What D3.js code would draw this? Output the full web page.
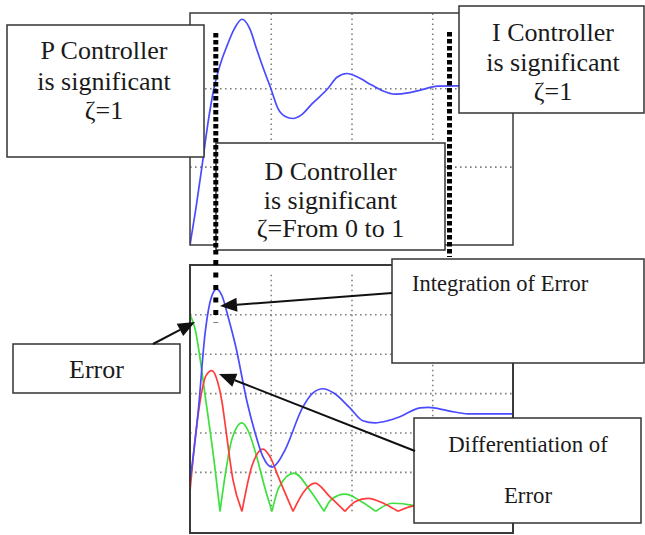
<!DOCTYPE html>
<html><head><meta charset="utf-8">
<script src="https://cdn.jsdelivr.net/npm/d3@7"></script>
<style>
body{margin:0;background:#fff}
svg{display:block;background:#fff}
</style>
</head><body>
<svg id="c" width="645" height="535"></svg>
<script>
// ---------- data ----------
const topTime     = [0,0.075,0.149,0.22,0.297,0.38,0.458,0.55,0.644,0.74,0.83,0.92,1.0,1.09,1.18,1.276,1.38,1.51,1.71,1.82,1.944,2.08,2.25,2.38,2.54,2.70,2.83,3.07,3.32,3.6,4.0];
const topResponse = [0,0.24,0.503,0.77,1.0,1.16,1.27,1.38,1.44,1.38,1.242,1.11,1.0,0.87,0.82,0.807,0.83,0.90,1.0,1.07,1.094,1.07,1.02,0.985,0.962,0.97,0.985,1.013,1.015,1.005,1.0];

const integTime   = [0,0.1,0.186,0.26,0.33,0.40,0.47,0.57,0.706,0.805,0.9,1.015,1.09,1.176,1.40,1.52,1.647,1.78,1.98,2.14,2.29,2.45,2.6,2.85,2.95,3.2,3.44,4.0];
const integValues = [0.15,0.50,0.90,1.08,1.128,1.09,0.99,0.83,0.556,0.40,0.28,0.224,0.25,0.311,0.531,0.60,0.622,0.60,0.525,0.46,0.449,0.46,0.48,0.525,0.527,0.51,0.495,0.495];

const errorTime   = [0,0.06,0.198,0.30,0.372,0.45,0.516,0.644,0.73,0.826,0.92,1.015,1.10,1.288,1.48,1.66,1.75,1.92,2.12,2.30,2.51,2.76,2.95,3.16,3.57,3.78,4.0];
const errorValues = [1.0,0.93,0.556,0.25,0,0.22,0.362,0.449,0.40,0.277,0.13,0,0.12,0.194,0.11,0,0.06,0.087,0.05,0,0.041,0.03,0,0.02,0,0.01,0.004];

const diffTime    = [0,0.062,0.124,0.20,0.272,0.34,0.396,0.433,0.533,0.644,0.764,0.904,1.00,1.094,1.276,1.424,1.548,1.734,1.92,2.05,2.204,2.40,2.576,2.82,3.16,3.47,3.78,4.0];
const diffValues  = [0.10,0.362,0.556,0.69,0.714,0.66,0.556,0.449,0.158,0,0.226,0.316,0.27,0.175,0,0.107,0.143,0.073,0,0.05,0.066,0.04,0,0.03,0,0.015,0,0.006];

const xGridTicks      = [1,2,3];
const topGridTicks    = [0.5,1.0];
const bottomGridTicks = [0.2,0.4,0.6,0.8,1.0];

const pBoxText   = ["P Controller","is significant","\u03B6=1"];
const iBoxText   = ["I Controller","is significant","\u03B6=1"];
const dBoxText   = ["D Controller","is significant","\u03B6=From 0 to 1"];
const integLabel = ["Integration of Error"];
const diffLabel  = ["Differentiation of","Error"];
const errorLabel = ["Error"];

// ---------- drawing ----------
const FONT = "'Liberation Serif', Tinos, 'Times New Roman', 'DejaVu Serif', serif";
const svg = d3.select("#c");
const x = d3.scaleLinear([0,4],[190,513]);
const yTop = d3.scaleLinear([0,1.48],[245,13]);
const yBot = d3.scaleLinear([-0.11,1.25],[533,265]);

const defs = svg.append("defs");
defs.append("clipPath").attr("id","clipTop").append("rect")
  .attr("x",190).attr("y",13).attr("width",323).attr("height",232);
defs.append("clipPath").attr("id","clipBot").append("rect")
  .attr("x",190).attr("y",265).attr("width",323).attr("height",268);

function grid(g){
  g.selectAll(".domain").remove();
  g.selectAll("line").attr("stroke","#808080").attr("stroke-width",1.6).attr("stroke-dasharray","1.6,3.4");
  g.selectAll("text").remove();
}

// top plot grid
svg.append("g").attr("transform",`translate(0,${yTop(0)})`)
  .call(d3.axisBottom(x).tickValues(xGridTicks).tickSize(-(yTop(0)-yTop(1.48))).tickFormat(""))
  .call(grid);
svg.append("g").attr("transform",`translate(${x(0)},0)`)
  .call(d3.axisLeft(yTop).tickValues(topGridTicks).tickSize(-(x(4)-x(0))).tickFormat(""))
  .call(grid);

// bottom plot grid
svg.append("g").attr("transform",`translate(0,${yBot(0)})`)
  .call(d3.axisBottom(x).tickValues(xGridTicks).tickSize(-(yBot(0)-yBot(1.2))).tickFormat(""))
  .call(grid);
svg.append("g").attr("transform",`translate(${x(0)},0)`)
  .call(d3.axisLeft(yBot).tickValues(bottomGridTicks).tickSize(-(x(4)-x(0))).tickFormat(""))
  .call(grid);

// curves
const lineTop = d3.line().x(d=>x(d[0])).y(d=>yTop(d[1])).curve(d3.curveMonotoneX);
const lineBot = d3.line().x(d=>x(d[0])).y(d=>yBot(d[1])).curve(d3.curveMonotoneX);

function zip(a,b){return a.map((t,i)=>[t,b[i]]);}
function lobes(a,b){
  const pts = zip(a,b), out=[]; let cur=[];
  pts.forEach((p,i)=>{
    cur.push(p);
    if(p[1]===0 && i>0 && i<pts.length-1){ out.push(cur); cur=[p]; }
  });
  if(cur.length>1) out.push(cur);
  return out;
}

svg.append("path").attr("clip-path","url(#clipTop)")
  .attr("d",lineTop(zip(topTime,topResponse)))
  .attr("fill","none").attr("stroke","#4a4aff").attr("stroke-width",1.7);

const gb = svg.append("g").attr("clip-path","url(#clipBot)");
gb.selectAll(".err").data(lobes(errorTime,errorValues)).join("path")
  .attr("d",lineBot).attr("fill","none").attr("stroke","#3ee03e").attr("stroke-width",1.7);
gb.selectAll(".dif").data(lobes(diffTime,diffValues)).join("path")
  .attr("d",lineBot).attr("fill","none").attr("stroke","#ff3c3c").attr("stroke-width",1.7);
gb.append("path").attr("d",lineBot(zip(integTime,integValues)))
  .attr("fill","none").attr("stroke","#4a4aff").attr("stroke-width",1.7);

// frames
svg.append("rect").attr("x",190).attr("y",13).attr("width",323).attr("height",232)
  .attr("fill","none").attr("stroke","#3a3a3a").attr("stroke-width",1.5);
svg.append("rect").attr("x",190).attr("y",265).attr("width",323).attr("height",268)
  .attr("fill","none").attr("stroke","#3a3a3a").attr("stroke-width",2);

// annotation boxes
function box(x0,y0,w,h,lines,cx,baselines,size,anchor){
  svg.append("rect").attr("x",x0).attr("y",y0).attr("width",w).attr("height",h)
    .attr("fill","#fff").attr("stroke","#333").attr("stroke-width",1.5);
  lines.forEach((s,i)=>{
    svg.append("text").attr("x",cx).attr("y",baselines[i])
      .attr("font-family",FONT).attr("fill","#1a1a1a")
      .attr("text-anchor",anchor||"middle").attr("font-size",size).text(s);
  });
}
box(7,25,197,132,pBoxText,104,[59,89.5,119],26);
box(459,6,185,107,iBoxText,553,[41,71,100],26);
box(216,143,229,107,dBoxText,330.5,[180,208.5,237],26);
box(392,259,252,104,integLabel,412,[291],22.5,"start");
box(414,418,227,105,diffLabel,528,[452,503],22.8);
box(13,344,167,49,errorLabel,96.5,[378],26);

// thick dotted guide lines
function guide(xp,y1,y2,dash){
  svg.append("line").attr("x1",xp).attr("x2",xp).attr("y1",y1).attr("y2",y2)
    .attr("stroke","#000").attr("stroke-width",5).attr("stroke-dasharray",dash);
}
guide(215.8,33,257,"4.5,2.5");
guide(215.8,260,323,"5,7.5");
guide(449.5,32,257,"4.5,2.5");

// arrows
function arrow(x1,y1,x2,y2){
  const a=Math.atan2(y2-y1,x2-x1), L=17, W=7;
  const bx=x2-L*Math.cos(a), by=y2-L*Math.sin(a);
  svg.append("line").attr("x1",x1).attr("y1",y1).attr("x2",bx).attr("y2",by)
    .attr("stroke","#111").attr("stroke-width",2);
  const p=[[x2,y2],[bx+W*Math.sin(a),by-W*Math.cos(a)],[bx-W*Math.sin(a),by+W*Math.cos(a)]];
  svg.append("polygon").attr("points",p.map(q=>q.join(",")).join(" ")).attr("fill","#111");
}
arrow(392,293,220,306);
arrow(415,451,219,374);
arrow(153,344,195,322);
</script>
</body></html>
